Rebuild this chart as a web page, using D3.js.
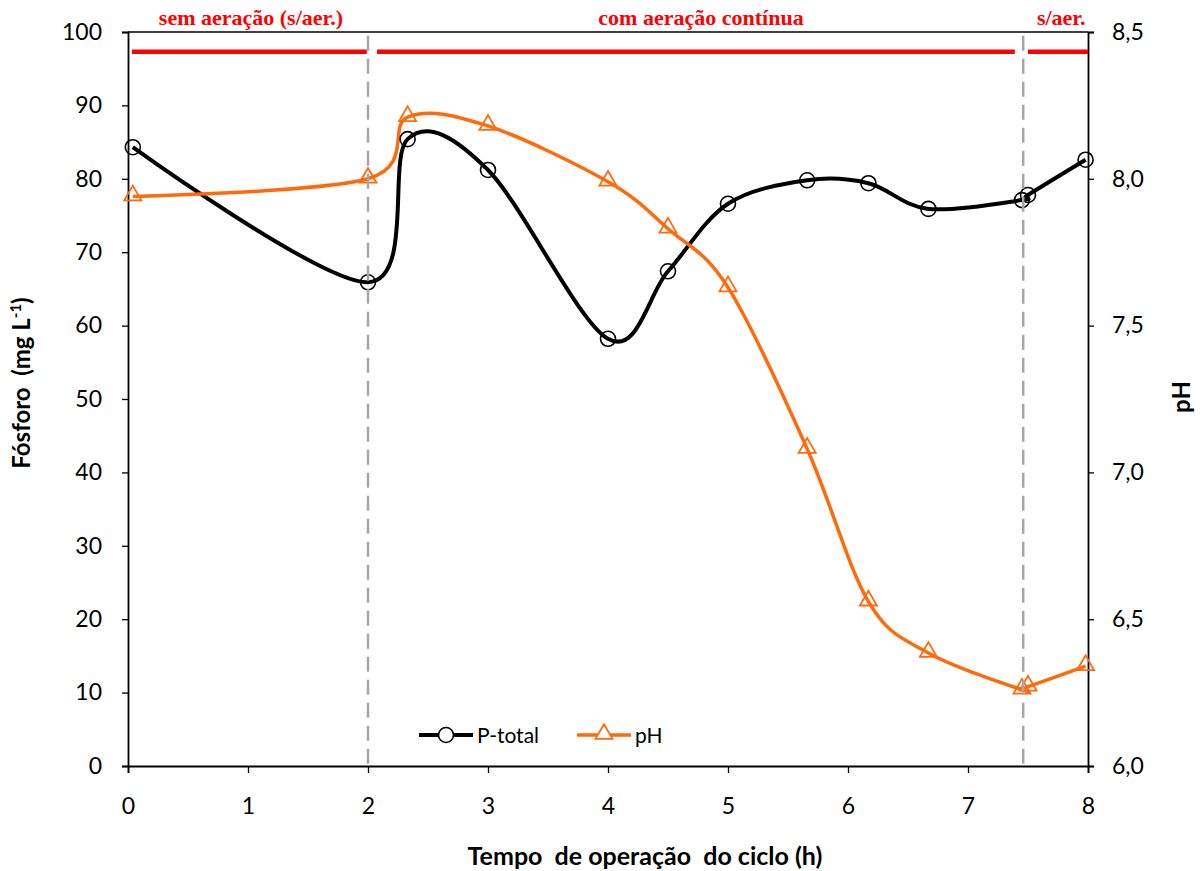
<!DOCTYPE html>
<html>
<head>
<meta charset="utf-8">
<script src="https://cdn.jsdelivr.net/npm/d3@7"></script>
<style>
  body { margin: 0; background: #fff; }
  svg { display: block; }
  text { white-space: pre; }
</style>
</head>
<body>
<div id="chart"></div>
<script>
// Dados
const tempo = [0.04, 2.0, 2.33, 3.0, 4.0, 4.5, 5.0, 5.66, 6.17, 6.67, 7.45, 7.5, 7.98];
const pTotal = [84.3, 65.9, 85.4, 81.2, 58.2, 67.4, 76.6, 79.8, 79.4, 75.9, 77.1, 77.8, 82.6];
const pH = [7.94, 8.0, 8.21, 8.18, 7.99, 7.83, 7.63, 7.08, 6.56, 6.385, 6.26, 6.27, 6.34];

const xTicks = [0, 1, 2, 3, 4, 5, 6, 7, 8];
const yTicks = [0, 10, 20, 30, 40, 50, 60, 70, 80, 90, 100];
const pHTicks = [6.0, 6.5, 7.0, 7.5, 8.0, 8.5];

// fases de aeração
const fases = [
  { label: "sem aeração (s/aer.)", from: 0.033, to: 1.99, anchor: "middle", tx: 1.025 },
  { label: "com aeração contínua", from: 2.075, to: 7.39, anchor: "middle", tx: 4.775 },
  { label: "s/aer.", from: 7.5, to: 8.0, anchor: "end", tx: 7.98 }
];
const divisoes = [2.0, 7.46];

const width = 1202, height = 871;
const margin = { top: 32, right: 114, bottom: 105, left: 128 };
const font = "Lato, 'Open Sans', sans-serif";

const svg = d3.select("#chart").append("svg")
  .attr("width", width)
  .attr("height", height)
  .attr("viewBox", [0, 0, width, height]);

const x = d3.scaleLinear().domain([0, 8]).range([margin.left, width - margin.right]);
const y = d3.scaleLinear().domain([0, 100]).range([height - margin.bottom, margin.top]);
const y2 = d3.scaleLinear().domain([6, 8.5]).range([height - margin.bottom, margin.top]);

// caixa: linha superior
svg.append("line")
  .attr("x1", x(0)).attr("x2", x(8))
  .attr("y1", y(100)).attr("y2", y(100))
  .attr("stroke", "#000").attr("stroke-width", 1.5);

// eixos
const xAxis = svg.append("g")
  .attr("transform", `translate(0,${y(0)})`)
  .call(d3.axisBottom(x).tickValues(xTicks).tickSize(7).tickPadding(25).tickFormat(d3.format("d")));
const yAxis = svg.append("g")
  .attr("transform", `translate(${x(0)},0)`)
  .call(d3.axisLeft(y).tickValues(yTicks).tickSize(6).tickPadding(20));
const y2Axis = svg.append("g")
  .attr("transform", `translate(${x(8)},0)`)
  .call(d3.axisRight(y2).tickValues(pHTicks).tickSize(6).tickPadding(18)
    .tickFormat(d => d3.format(".1f")(d).replace(".", ",")));

[xAxis, yAxis, y2Axis].forEach(g => {
  g.selectAll("path.domain").attr("stroke", "#000").attr("stroke-width", 1.8);
  g.selectAll(".tick line").attr("stroke", "#000").attr("stroke-width", 1.3);
  g.selectAll("text").attr("font-family", font).attr("font-size", 23).attr("fill", "#000");
});

// títulos dos eixos
svg.append("text")
  .attr("x", 645)
  .attr("y", 865)
  .attr("text-anchor", "middle")
  .attr("font-family", font).attr("font-weight", "bold").attr("font-size", 25)
  .text("Tempo  de operação  do ciclo (h)");

const yTitle = svg.append("text")
  .attr("transform", `translate(30,383) rotate(-90)`)
  .attr("text-anchor", "middle")
  .attr("font-family", font).attr("font-weight", "bold").attr("font-size", 24);
yTitle.append("tspan").text("Fósforo  (mg L");
yTitle.append("tspan").attr("dy", -9).attr("font-size", 15).text("-1");
yTitle.append("tspan").attr("dy", 9).text(")");

svg.append("text")
  .attr("transform", `translate(1190,397) rotate(-90)`)
  .attr("text-anchor", "middle")
  .attr("font-family", font).attr("font-weight", "bold").attr("font-size", 24)
  .text("pH");

// barras vermelhas de fase + rótulos
svg.append("g").selectAll("line")
  .data(fases)
  .join("line")
  .attr("x1", d => x(d.from)).attr("x2", d => x(d.to))
  .attr("y1", y(97.3)).attr("y2", y(97.3))
  .attr("stroke", "#ff0000").attr("stroke-width", 4.5);

svg.append("g").selectAll("text")
  .data(fases)
  .join("text")
  .attr("x", d => x(d.tx))
  .attr("y", 25)
  .attr("text-anchor", d => d.anchor)
  .attr("font-family", "'Liberation Serif', 'Times New Roman', serif")
  .attr("font-weight", "bold").attr("font-size", 22)
  .attr("fill", "#ff0000")
  .text(d => d.label);

// curvas
const curve = d3.curveCardinal.tension(0);
const lineP = d3.line().x(i => x(tempo[i])).y(i => y(pTotal[i])).curve(curve);
const linePH = d3.line().x(i => x(tempo[i])).y(i => y2(pH[i])).curve(curve);
const idx = d3.range(tempo.length);

const orange = "#ff6a0a";

svg.append("path")
  .attr("d", lineP(idx))
  .attr("fill", "none").attr("stroke", "#000").attr("stroke-width", 4)
  .attr("stroke-linejoin", "round");

svg.append("path")
  .attr("d", linePH(idx))
  .attr("fill", "none").attr("stroke", orange).attr("stroke-width", 3.5)
  .attr("stroke-linejoin", "round");

const tri = d3.symbol().type(d3.symbolTriangle).size(125);

svg.append("g").selectAll("circle")
  .data(idx)
  .join("circle")
  .attr("cx", i => x(tempo[i])).attr("cy", i => y(pTotal[i]))
  .attr("r", 7.5)
  .attr("fill", "none").attr("stroke", "#000").attr("stroke-width", 1.6);

svg.append("g").selectAll("path")
  .data(idx)
  .join("path")
  .attr("transform", i => `translate(${x(tempo[i])},${y2(pH[i]) - 1})`)
  .attr("d", tri)
  .attr("fill", "none").attr("stroke", orange).attr("stroke-width", 1.8);

// linhas tracejadas de divisão
svg.append("g").selectAll("line")
  .data(divisoes)
  .join("line")
  .attr("x1", d => x(d)).attr("x2", d => x(d))
  .attr("y1", y(99.5)).attr("y2", y(0))
  .attr("stroke", "#a6a6a6").attr("stroke-width", 2.5)
  .attr("stroke-dasharray", "15,8");

// legenda
const legend = svg.append("g").attr("transform", "translate(419,735)");
legend.append("line").attr("x1", 0).attr("x2", 54)
  .attr("stroke", "#000").attr("stroke-width", 4);
legend.append("circle").attr("cx", 27).attr("r", 7.5)
  .attr("fill", "#fff").attr("stroke", "#000").attr("stroke-width", 1.6);
legend.append("text").attr("x", 58).attr("y", 8)
  .attr("font-family", font).attr("font-size", 21).text("P-total");

legend.append("line").attr("x1", 158).attr("x2", 212)
  .attr("stroke", orange).attr("stroke-width", 3.5);
legend.append("path").attr("transform", "translate(185,-1)").attr("d", tri)
  .attr("fill", "#fff").attr("stroke", orange).attr("stroke-width", 1.8);
legend.append("text").attr("x", 216).attr("y", 8)
  .attr("font-family", font).attr("font-size", 21).text("pH");
</script>
</body>
</html>
